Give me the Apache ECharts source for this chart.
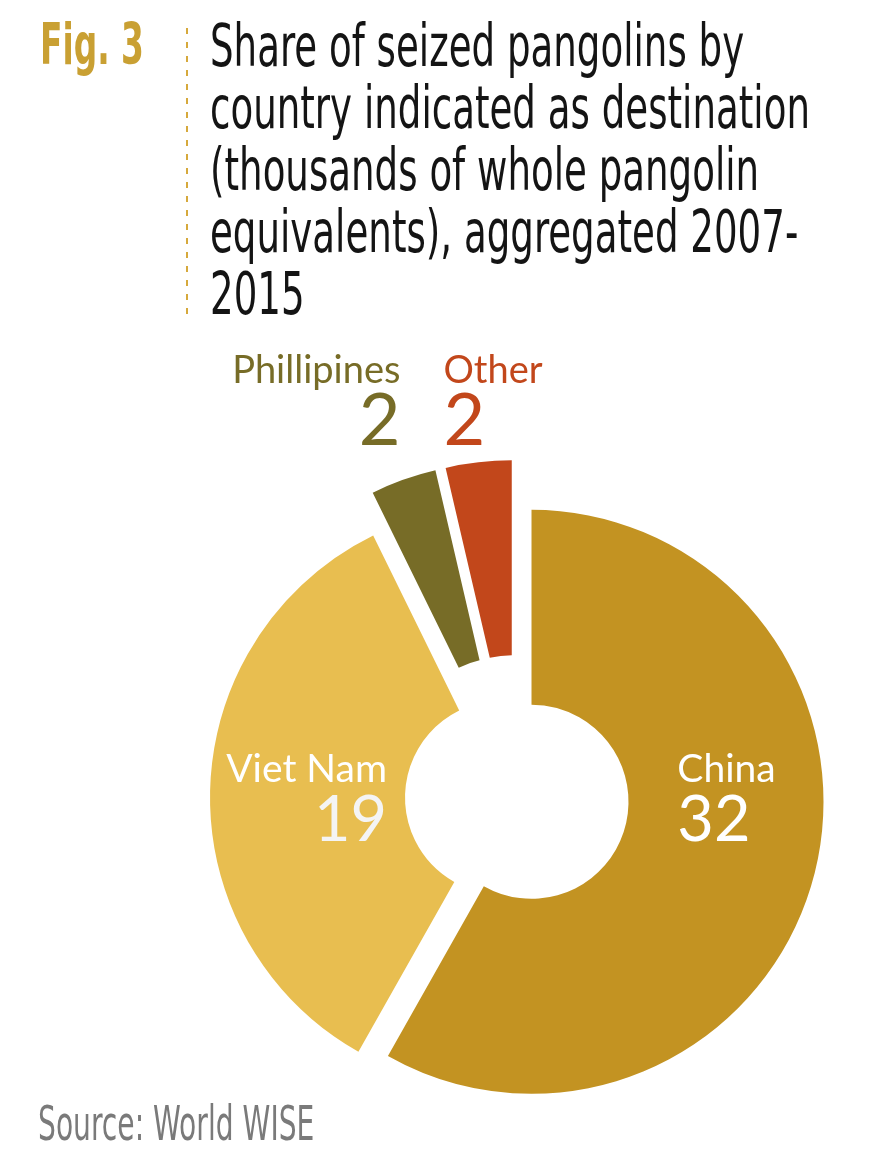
<!DOCTYPE html>
<html>
<head>
<meta charset="utf-8">
<script src="https://cdn.jsdelivr.net/npm/echarts@6/dist/echarts.min.js"></script>
<style>
  html, body { margin: 0; padding: 0; background: #fff; }
  #chart { width: 890px; height: 1170px; }
</style>
</head>
<body>
<div id="chart"></div>
<script>
// data (thousands of whole pangolin equivalents)
const countries = ['China', 'Viet Nam', 'Phillipines', 'Other'];
const seized = [32, 19, 2, 2];
const colors = ['#C39322', '#E8BE50', '#776C27', '#C2471B'];
const labelColors = ['#ffffff', '#ffffff', '#776C27', '#C2471B'];
// which slices are pulled far out (small ones) vs only slightly
const farOut = ['Phillipines', 'Other'];

const titleLines = [
  'Share of seized pangolins by',
  'country indicated as destination',
  '(thousands of whole pangolin',
  'equivalents), aggregated 2007-',
  '2015'
];
const figLabel = 'Fig. 3';
const sourceText = 'Source: World WISE';

// no condensed Futura here, so squeeze DejaVu Condensed with scaleX/scaleY
const narrow = '"DejaVu Sans Condensed", "DejaVu Sans", sans-serif';
const round = 'Lato, "Noto Sans", sans-serif';

// small nudges for the labels, relative to ECharts' own pie label positions
const labelNudge = {
  'China': { dx: 4, dy: -54 },
  'Viet Nam': { dx: 2, dy: 6 },
  'Phillipines': { dx: 2, dy: -78, align: 'right' },
  'Other': { dx: -30, dy: -60, align: 'left' }
};

function buildData(showFar) {
  return countries.map((name, i) => {
    const visible = farOut.includes(name) === showFar;
    const isInner = name === 'China' || name === 'Viet Nam';
    const leftAligned = name === 'China' || name === 'Other';
    return {
      name: name,
      value: seized[i],
      selected: visible,
      itemStyle: { color: visible ? colors[i] : 'rgba(0,0,0,0)' },
      select: { itemStyle: { color: colors[i], borderWidth: 0 } },
      label: {
        show: visible,
        position: isInner ? 'inside' : 'outside',
        formatter: '{n|{b}}\n{v|{c}}',
        rich: {
          n: {
            fontFamily: round, fontSize: isInner ? 39 : 38,
            lineHeight: isInner ? 46 : 40,
            color: labelColors[i],
            align: leftAligned ? 'left' : 'right'
          },
          v: {
            fontFamily: round, fontSize: isInner ? 63 : 72,
            lineHeight: isInner ? 58 : 62,
            color: name === 'Viet Nam' ? '#f4f4f4' : labelColors[i],
            align: leftAligned ? 'left' : 'right'
          }
        }
      },
      labelLine: { show: false, length: 0, length2: 0 }
    };
  });
}

function pieSeries(showFar, offset) {
  return {
    type: 'pie',
    center: [517, 798],
    radius: [97, 292],
    startAngle: 90,
    clockwise: true,
    selectedMode: 'multiple',
    selectedOffset: offset,
    avoidLabelOverlap: false,
    silent: true,
    emphasis: { disabled: true },
    itemStyle: { borderWidth: 0 },
    labelLayout: function (params) {
      const n = labelNudge[countries[params.dataIndex]];
      return n || {};
    },
    data: buildData(showFar)
  };
}

const chart = echarts.init(document.getElementById('chart'), null, { renderer: 'canvas' });

const titleGraphics = titleLines.map((line, i) => ({
  type: 'text',
  x: 210,
  y: 21 + i * 62,
  scaleX: 0.81,
  scaleY: 1.15,
  style: {
    text: line,
    fontFamily: narrow,
    fontSize: 51,
    fill: '#141414',
    textVerticalAlign: 'top'
  }
}));

chart.setOption({
  animation: false,
  backgroundColor: '#ffffff',
  graphic: [
    {
      type: 'text',
      x: 40,
      y: 20,
      scaleX: 0.76,
      scaleY: 1.2,
      style: {
        text: figLabel,
        fontFamily: narrow,
        fontWeight: 'bold',
        fontSize: 48,
        fill: '#C9A033',
        textVerticalAlign: 'top'
      }
    },
    {
      type: 'line',
      shape: { x1: 187, y1: 28, x2: 187, y2: 322 },
      style: { stroke: '#D6A93C', lineWidth: 2, lineDash: [6, 8] }
    },
    ...titleGraphics,
    {
      type: 'text',
      x: 38,
      y: 1103,
      scaleX: 0.846,
      scaleY: 1.3,
      style: {
        text: sourceText,
        fontFamily: narrow,
        fontSize: 37,
        fill: '#7a7a7a',
        textVerticalAlign: 'top'
      }
    }
  ],
  series: [pieSeries(false, 15), pieSeries(true, 46)]
});
</script>
</body>
</html>
